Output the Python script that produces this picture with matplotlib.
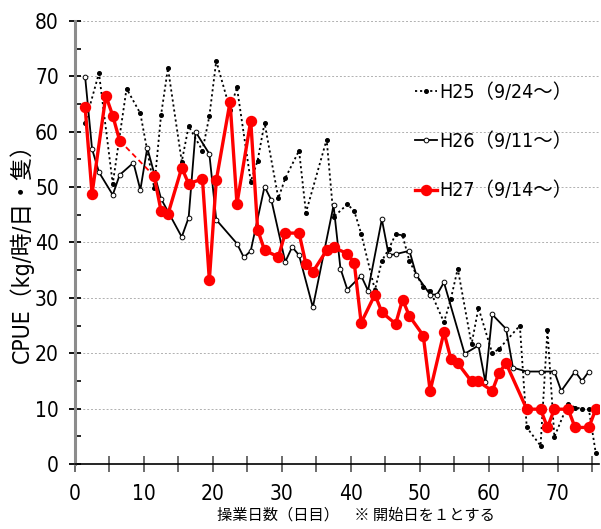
import matplotlib
matplotlib.use('Agg')
import matplotlib.pyplot as plt
from matplotlib.ticker import MultipleLocator
from matplotlib.lines import Line2D
import numpy as np

# ---------------- data ----------------
h25_days = [1,3,5,7,9,11,12,13,15,16,18,19,20,22,23,25,26,27,29,30,32,33,36,37,39,40,41,
            43,44,45,46,47,48,50,51,53,54,55,57,58,60,61,64,65,67,68,69,71,72,73,74,75]
h25_vals = [61.6,70.6,50.6,67.8,63.3,49.9,63.0,71.5,54.6,61.0,56.6,62.8,72.8,64.0,68.0,51.0,
            54.8,61.6,48.0,51.6,56.6,45.4,58.6,44.6,46.9,45.7,41.6,31.4,36.7,38.8,41.5,41.3,
            36.6,31.9,31.3,25.6,29.8,35.3,21.6,28.2,20.0,20.8,25.0,6.6,3.3,24.2,4.9,10.9,
            10.2,10.0,9.9,2.0]

h26_days = [1,2,3,5,6,8,9,10,12,15,16,17,19,20,23,24,25,27,28,30,31,32,34,37,38,39,41,42,
            44,45,46,48,49,51,52,53,56,58,59,60,62,63,65,67,69,70,72,73,74]
h26_vals = [69.9,56.9,52.7,48.6,52.2,54.4,49.5,57.1,47.9,41.0,44.5,60.0,56.0,44.1,39.8,37.3,
            38.5,50.1,47.6,36.5,39.2,37.7,28.3,46.7,35.3,31.5,34.0,31.3,44.2,37.7,37.9,38.5,
            34.1,30.6,30.6,32.8,19.9,21.4,14.8,27.0,24.4,17.4,16.7,16.7,16.7,13.2,16.7,15.0,16.7]

h27_days = [1,2,4,5,6,11,12,13,15,16,18,19,20,22,23,25,26,27,29,30,32,33,34,36,37,39,40,41,
            43,44,46,47,48,50,51,53,54,55,57,58,60,61,62,65,67,68,69,71,72,74,75]
h27_vals = [64.4,48.8,66.5,62.9,58.4,52.0,45.7,45.1,53.5,50.6,51.5,33.2,51.2,65.4,47.0,62.0,
            42.3,38.6,37.4,41.7,41.7,36.1,34.7,38.6,39.1,38.0,36.3,25.5,30.6,27.4,25.3,29.7,
            26.7,23.2,13.2,23.8,19.0,18.2,14.9,14.9,13.2,16.5,18.2,9.9,9.9,6.6,9.9,9.9,6.6,
            6.6,9.9]
h27_gap_after = 6   # dashed line across missing days 7-10

labels = ['H25（9/24～）', 'H26（9/11～）', 'H27（9/14～）']
x_ticks = [0, 10, 20, 30, 40, 50, 60, 70]
y_ticks = [0, 10, 20, 30, 40, 50, 60, 70, 80]
xlabel = '操業日数（日目）　※ 開始日を１とする'
ylabel = 'CPUE（kg/時/日・隻）'

X_SHIFT = 0.5  # points sit half a day right of the day tick in the original

# ---------------- style ----------------
NUM_FONT = ['DejaVu Sans', 'Noto Sans CJK JP']
JP_FONT = ['Noto Sans CJK JP', 'DejaVu Sans']
plt.rcParams['font.family'] = JP_FONT
plt.rcParams['font.stretch'] = 'condensed'

fig = plt.figure(figsize=(6.01, 5.29), dpi=100)
ax = fig.add_axes([74.8/601, 1-464/529, (599.2-74.8)/601, (464-21)/529])

d25 = np.array(h25_days) + X_SHIFT
d26 = np.array(h26_days) + X_SHIFT
d27 = np.array(h27_days) + X_SHIFT
v27 = np.array(h27_vals)

ax.plot(d25, h25_vals, color='black', lw=1.3, ls=(0, (1.2, 1.6)), marker='o',
        ms=2.6, mfc='black', mec='black', zorder=3)
ax.plot(d26, h26_vals, color='black', lw=1.3, ls='-', marker='o', ms=3.4,
        mfc='white', mec='black', mew=0.7, zorder=4)

i = h27_days.index(h27_gap_after)
ax.plot(d27[i:i+2], v27[i:i+2], color='red', lw=1.3, ls=(0, (3, 2)), zorder=5)
ax.plot(d27[:i+1], v27[:i+1], color='red', lw=2.4, marker='o', ms=7.2, mec='red',
        mfc='red', zorder=6)
ax.plot(d27[i+1:], v27[i+1:], color='red', lw=2.4, marker='o', ms=7.2, mec='red',
        mfc='red', zorder=6)

ax.set_xlim(0, 76)
ax.set_ylim(0, 80)
ax.set_xticks(x_ticks)
ax.set_yticks(y_ticks)
ax.xaxis.set_minor_locator(MultipleLocator(5))
ax.yaxis.set_minor_locator(MultipleLocator(5))

ax.grid(axis='y', which='major', color='#b0b0b0', ls=(0, (2, 2)), lw=0.7, zorder=0)

for s in ['top', 'right']:
    ax.spines[s].set_visible(False)
ax.spines['left'].set_color('#8c8c8c')
ax.spines['left'].set_linewidth(2.2)
ax.spines['bottom'].set_color('black')
ax.spines['bottom'].set_linewidth(1.2)

ax.tick_params(axis='y', which='major', direction='inout', length=9, width=1.3,
               color='black', labelsize=15, pad=7)
ax.tick_params(axis='y', which='minor', direction='in', length=4.5, width=1.2, color='black')
ax.tick_params(axis='x', which='major', direction='inout', length=11, width=1.1,
               color='#444444', labelsize=15, pad=9)
ax.tick_params(axis='x', which='minor', direction='inout', length=11, width=1.1, color='#444444')
for lab in ax.get_xticklabels() + ax.get_yticklabels():
    lab.set_family(NUM_FONT)

ax.set_xlabel(xlabel, fontsize=11, family=JP_FONT, labelpad=4)
ax.xaxis.set_label_coords((356 - 74.8) / (599.2 - 74.8), -0.095)
ax.set_ylabel(ylabel, fontsize=16.5, family=NUM_FONT, labelpad=8)
ax.yaxis.set_label_coords(-(74.8 - 34) / (599.2 - 74.8), (464 - 248) / (464 - 21))

handles = [
    Line2D([], [], color='black', lw=1.3, ls=(0, (1.2, 1.6)), marker='o', ms=2.6),
    Line2D([], [], color='black', lw=1.3, marker='o', ms=3.4, mfc='white', mew=0.7),
    Line2D([], [], color='red', lw=2.4, marker='o', ms=7.2),
]
leg = fig.legend(handles, labels, loc='center left', bbox_to_anchor=(415/601, 1-141.7/529),
                 frameon=False, handlelength=1.15, handletextpad=0.1,
                 labelspacing=1.55, borderpad=0, borderaxespad=0,
                 prop={'family': NUM_FONT, 'size': 14})

fig.savefig('out.png', dpi=100)
